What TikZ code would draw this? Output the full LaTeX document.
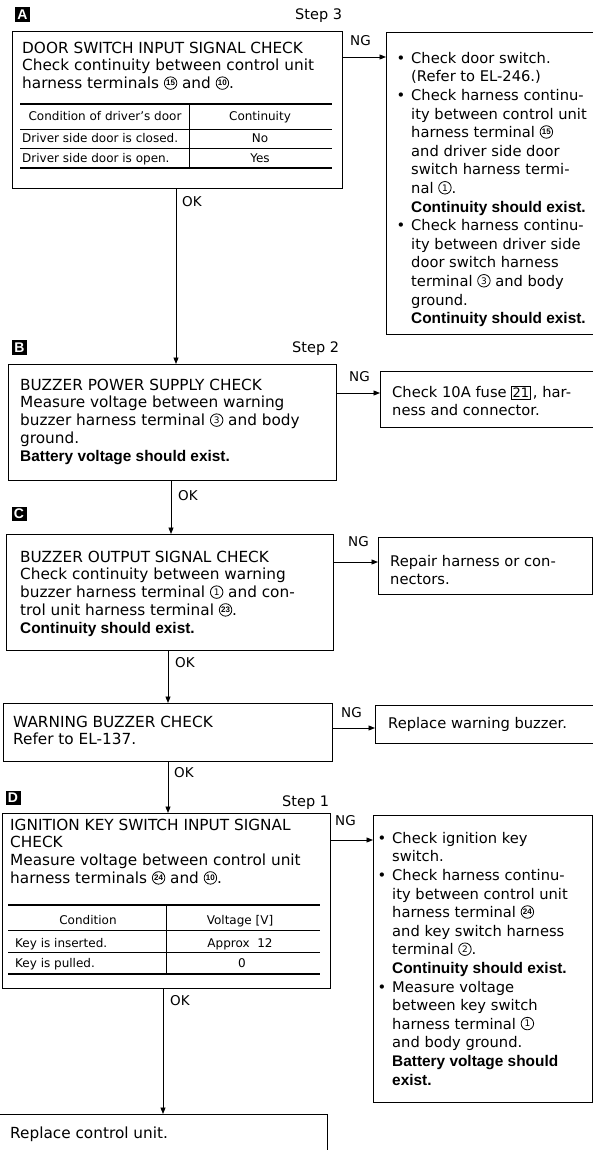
\documentclass[tikz,border=0pt]{standalone}
\usepackage{fontspec}
\setmainfont{DejaVu Sans}
\newfontfamily\lbold{Liberation Sans}
\usetikzlibrary{arrows.meta}
\newcommand\bt[1]{{\lbold\bfseries\fontsize{15.4}{18}\selectfont #1}}
\newcommand\bul{\llap{\textbullet\hspace{6pt}}}
\newcommand\cn[1]{\tikz[baseline={([yshift=1pt]cnx.south)}]\node[draw,circle,line width=0.8pt,inner sep=0pt,minimum size=12.5pt,font=\fontsize{9}{9}\selectfont](cnx){#1};}
\newcommand\cnb[1]{\tikz[baseline={([yshift=1pt]cnx.south)}]\node[draw,circle,line width=0.8pt,inner sep=0pt,minimum size=12.5pt,font=\lbold\bfseries\fontsize{8}{8}\selectfont](cnx){#1};}
\newcommand\fuse[1]{\tikz[baseline=(fzx.base)]\node[draw,line width=0.6pt,inner xsep=1pt,inner ysep=1.6pt,font=\fontsize{13}{13}\selectfont](fzx){#1};}
\tikzset{
  box/.style={draw,line width=0.9pt,inner sep=0pt,anchor=north west},
  main/.style={anchor=north west,inner sep=0pt,align=left,font=\fontsize{15.3}{17.8}\selectfont},
  side/.style={anchor=north west,inner sep=0pt,align=left,font=\fontsize{14.7}{18.6}\selectfont},
  tab/.style={font=\fontsize{12}{14}\selectfont,inner sep=0pt,anchor=base},
  tabl/.style={tab,anchor=base west},
  lab/.style={font=\fontsize{13.5}{14}\selectfont,inner sep=0pt,anchor=base west},
  steplab/.style={font=\fontsize{14.5}{15}\selectfont,inner sep=0pt,anchor=base west},
  badge/.style={fill=black,text=white,font=\lbold\bfseries\fontsize{14}{14}\selectfont,minimum width=15pt,minimum height=14.5pt,inner sep=0pt},
  arr/.style={line width=0.9pt,-{Triangle[length=6.5pt,width=5pt]}},
  thk/.style={line width=1.6pt},
  thn/.style={line width=0.7pt}
}
\begin{document}
\begin{tikzpicture}[x=1pt,y=-1pt]
\useasboundingbox[fill=white] (0,0) rectangle (593,1150);

% badges and step labels
\node[badge] (bA) at (22.5,14.5) {A};
\node[badge] (bB) at (19.5,347.5) {B};
\node[badge] (bC) at (19,514) {C};
\node[badge] (bD) at (13,798) {D};
\node[steplab] (s3) at (295,20) {Step 3};
\node[steplab] (s2) at (292,352) {Step 2};
\node[steplab] (s1) at (282,806) {Step 1};

% ---------- A ----------
\node[box,minimum width=330pt,minimum height=157pt] (A) at (12,31) {};
\node[main] (Atx) at (22,40.5) {\strut DOOR SWITCH INPUT SIGNAL CHECK\\Check continuity between control unit\\harness terminals \cnb{15} and \cnb{10}.};
\draw[thk] (20,104) -- (332,104);
\draw[thn] (20,129) -- (332,129);
\draw[thn] (20,148) -- (332,148);
\draw[thk] (20,168) -- (332,168);
\draw[thn] (189,104) -- (189,168);
\node[tab] (ta1) at (105,121) {Condition of driver's door};
\node[tab] (ta2) at (260,121) {Continuity};
\node[tabl] (ta3) at (22,143) {Driver side door is closed.};
\node[tab] (ta4) at (260,143) {No};
\node[tabl] (ta5) at (22,162.5) {Driver side door is open.};
\node[tab] (ta6) at (260,162.5) {Yes};

\node[box,minimum width=212pt,minimum height=302pt] (rA) at (386,32) {};
\node[side] (rAtx) at (411,50) {\strut\bul Check door switch.\\(Refer to EL-246.)\\\bul Check harness continu-\\ity between control unit\\harness terminal \cnb{15}\\and driver side door\\switch harness termi-\\nal \cn{1}.\\\bt{Continuity should exist.}\\\bul Check harness continu-\\ity between driver side\\door switch harness\\terminal \cn{3} and body\\ground.\\\bt{Continuity should exist.}};

% ---------- B ----------
\node[box,minimum width=328pt,minimum height=116pt] (B) at (8,364) {};
\node[main] (Btx) at (20,377.5) {\strut BUZZER POWER SUPPLY CHECK\\Measure voltage between warning\\buzzer harness terminal \cn{3} and body\\ground.\\\bt{Battery voltage should exist.}};
\node[box,minimum width=218pt,minimum height=56pt] (rB) at (380,371) {};
\node[side] (rBtx) at (392,384) {\strut Check 10A fuse \fuse{21}\,, har-\\ness and connector.};

% ---------- C ----------
\node[box,minimum width=327pt,minimum height=116pt] (C) at (6,534) {};
\node[main] (Ctx) at (20,549.5) {\strut BUZZER OUTPUT SIGNAL CHECK\\Check continuity between warning\\buzzer harness terminal \cn{1} and con-\\trol unit harness terminal \cnb{23}.\\\bt{Continuity should exist.}};
\node[box,minimum width=214pt,minimum height=57pt] (rC) at (378,537) {};
\node[side] (rCtx) at (390,553) {\strut Repair harness or con-\\nectors.};

% ---------- Warning buzzer ----------
\node[box,minimum width=329pt,minimum height=58pt] (W) at (3,703) {};
\node[main] (Wtx) at (13,714.5) {\strut WARNING BUZZER CHECK\\Refer to EL-137.};
\node[box,minimum width=223pt,minimum height=38pt] (rW) at (375,705) {};
\node[side] (rWtx) at (388,715) {\strut Replace warning buzzer.};

% ---------- D ----------
\node[box,minimum width=328pt,minimum height=175pt] (D) at (2,813) {};
\node[main] (Dtx) at (10,817.5) {\strut IGNITION KEY SWITCH INPUT SIGNAL\\CHECK\\Measure voltage between control unit\\harness terminals \cnb{24} and \cnb{10}.};
\draw[thk] (8,905) -- (320,905);
\draw[thn] (8,930) -- (320,930);
\draw[thn] (8,952) -- (320,952);
\draw[thk] (8,974) -- (320,974);
\draw[thn] (166,905) -- (166,974);
\node[tab] (td1) at (88,924) {Condition};
\node[tab] (td2) at (240,924) {Voltage [V]};
\node[tabl] (td3) at (15,947) {Key is inserted.};
\node[tab] (td4) at (240,947) {Approx~ 12};
\node[tabl] (td5) at (15,967) {Key is pulled.};
\node[tab] (td6) at (242,967) {0};

\node[box,minimum width=219pt,minimum height=287pt] (rD) at (373,815) {};
\node[side] (rDtx) at (392,830) {\strut\bul Check ignition key\\switch.\\\bul Check harness continu-\\ity between control unit\\harness terminal \cnb{24}\\and key switch harness\\terminal \cn{2}.\\\bt{Continuity should exist.}\\\bul Measure voltage\\between key switch\\harness terminal \cn{1}\\and body ground.\\\bt{Battery voltage should}\\\bt{exist.}};

% ---------- Final ----------
\node[box,minimum width=329pt,minimum height=51pt] (F) at (-2,1114) {};
\node[main] (Ftx) at (10,1125.5) {\strut Replace control unit.};

% ---------- connectors ----------
\coordinate (ngA) at (0,57);
\coordinate (ngB) at (0,393);
\coordinate (ngC) at (0,562);
\coordinate (ngW) at (0,728);
\coordinate (ngD) at (0,840);
\coordinate (okA) at (176,0);
\coordinate (okB) at (171,0);
\coordinate (okC) at (168,0);
\coordinate (okW) at (168,0);
\coordinate (okD) at (163,0);

\draw[arr] (A.east |- ngA) -- (rA.west |- ngA);
\draw[arr] (B.east |- ngB) -- (rB.west |- ngB);
\draw[arr] (C.east |- ngC) -- (rC.west |- ngC);
\draw[arr] (W.east |- ngW) -- (rW.west |- ngW);
\draw[arr] (D.east |- ngD) -- (rD.west |- ngD);
\node[lab] (ngAl) at (350,46) {NG};
\node[lab] (ngBl) at (349,381) {NG};
\node[lab] (ngCl) at (348,546) {NG};
\node[lab] (ngWl) at (341,717) {NG};
\node[lab] (ngDl) at (335,825) {NG};

\draw[arr] (A.south -| okA) -- (B.north -| okA);
\draw[arr] (B.south -| okB) -- (C.north -| okB);
\draw[arr] (C.south -| okC) -- (W.north -| okC);
\draw[arr] (W.south -| okW) -- (D.north -| okW);
\draw[arr] (D.south -| okD) -- (F.north -| okD);
\node[lab] (okAl) at (182,207) {OK};
\node[lab] (okBl) at (178,500) {OK};
\node[lab] (okCl) at (175,667) {OK};
\node[lab] (okWl) at (174,777) {OK};
\node[lab] (okDl) at (170,1005) {OK};
\end{tikzpicture}
\end{document}
